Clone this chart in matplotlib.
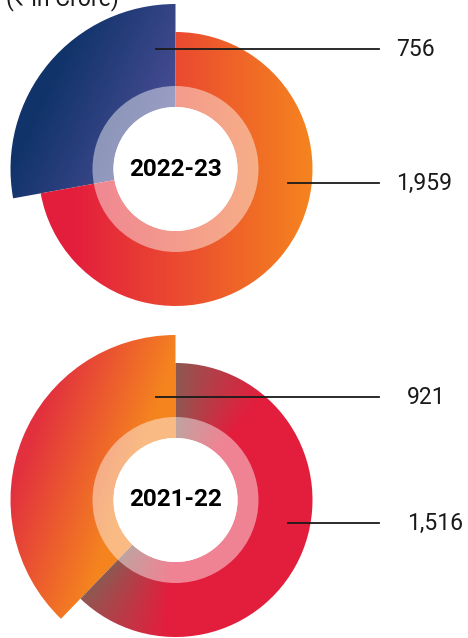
import numpy as np
import matplotlib
matplotlib.use('Agg')
import matplotlib.pyplot as plt
from matplotlib.patches import Wedge, Circle

# data (Rs in crore)
years = ['2022-23', '2021-22']
outer_vals = [756, 921]        # slice pulled out to the larger radius
ring_vals = [1959, 1516]
outer_labels = ['756', '921']
ring_labels = ['1,959', '1,516']

W, H = 468, 638
fig = plt.figure(figsize=(W / 100, H / 100), dpi=100)
ax = fig.add_axes([0, 0, 1, 1])
ax.set_xlim(0, W)
ax.set_ylim(H, 0)
ax.axis('off')

FONT = ['Roboto', 'Noto Sans', 'DejaVu Sans']

centers = [(175.5, 169), (175.5, 500)]
r_hole, r_light, r_ring, r_big = 62, 83, 137, 165
label_x = [396, 407]
line_end = 379
outer_anchor = [(-20, -120), (-20, -103)]    # offsets of leader start
ring_anchor = [(112, 14), (112, 23)]


def hexrgb(h):
    h = h.lstrip('#')
    return np.array([int(h[i:i + 2], 16) / 255 for i in (0, 2, 4)])


def lerp(c0, c1, t):
    t = np.clip(t, 0, 1)[..., None]
    return c0 * (1 - t) + c1 * t


def screen_wedge(c, r, a1, a2, width=None):
    # angles measured counter-clockwise on screen, y axis is inverted
    return Wedge(c, r, -a2, -a1, width=width, linewidth=0)


def grid(c, r):
    x0, x1 = int(c[0] - r - 2), int(c[0] + r + 2)
    y0, y1 = int(c[1] - r - 2), int(c[1] + r + 2)
    X, Y = np.meshgrid(np.arange(x0, x1) + 0.5, np.arange(y0, y1) + 0.5)
    return X, Y, (x0, x1, y1, y0)


def sector_mask(X, Y, c, r, a1, a2):
    ang = (np.degrees(np.arctan2(-(Y - c[1]), X - c[0])) - a1) % 360
    rr = np.hypot(X - c[0], Y - c[1])
    return (rr <= r) & (rr >= r_hole) & (ang <= (a2 - a1))


def draw_grad(img, ext, patch):
    ax.add_patch(patch)
    patch.set_visible(False)
    im = ax.imshow(img, extent=ext, origin='upper', interpolation='bilinear', zorder=2)
    im.set_clip_path(patch)


def directional(X, Y, mask, deg, c0, c1, lo=0.0, hi=1.0):
    a = np.radians(deg)
    s = X * np.cos(a) + Y * np.sin(a)
    smin, smax = s[mask].min(), s[mask].max()
    t = (s - smin) / (smax - smin)
    t = (t - lo) / (hi - lo)
    return lerp(hexrgb(c0), hexrgb(c1), t)


for i, c in enumerate(centers):
    total = outer_vals[i] + ring_vals[i]
    a_split = 90 + 360 * outer_vals[i] / total

    X, Y, ext = grid(c, r_big)
    m_big = sector_mask(X, Y, c, r_big, 90, a_split)
    m_ring = sector_mask(X, Y, c, r_ring, a_split, 450)
    if i == 0:
        big_img = directional(X, Y, m_big, 25, '#10336a', '#464c92', 0.1, 0.95)
        ring_img = directional(X, Y, m_ring, 0, '#e31e3d', '#f5841f', 0.12, 1.0)
    else:
        big_img = directional(X, Y, m_big, 20, '#e2303f', '#f5841f', 0.05, 0.8)
        # ring shaded brown next to both cut edges
        ang = np.degrees(np.arctan2(-(Y - c[1]), X - c[0])) % 360
        d1 = np.abs((ang - 90 + 180) % 360 - 180)
        d2 = np.abs((ang - a_split + 180) % 360 - 180)
        t = np.minimum(d1, d2) / 40
        ring_img = lerp(hexrgb('#8c5a52'), hexrgb('#e31e3d'), t ** 0.9)

    draw_grad(big_img, ext, screen_wedge(c, r_big, 90, a_split, width=r_big - r_hole))
    draw_grad(ring_img, ext, screen_wedge(c, r_ring, a_split, 450, width=r_ring - r_hole))

    ax.add_patch(Circle(c, r_light, facecolor='white', alpha=0.45, linewidth=0, zorder=3))
    ax.add_patch(Circle(c, r_hole, facecolor='white', linewidth=0, zorder=4))
    ax.text(c[0], c[1], years[i], ha='center', va='center', fontsize=17.5,
            fontweight='bold', family=FONT, zorder=5)

    for anchor, lab in ((outer_anchor[i], outer_labels[i]), (ring_anchor[i], ring_labels[i])):
        y = c[1] + anchor[1]
        ax.plot([c[0] + anchor[0], line_end], [y, y], color='#1a1a1a', lw=1.3, zorder=5)
        ax.text(label_x[i], y, lab, ha='left', va='center', fontsize=16.5, family=FONT,
                color='#1a1a1a', zorder=5)

# the unit note sits partly above the top edge, as in the source
ax.text(6, 5, '(\u20b9 in Crore)', ha='left', va='baseline', fontsize=16.5,
        family=FONT, color='#1a1a1a', clip_on=False)

fig.savefig('out.png', dpi=100)
